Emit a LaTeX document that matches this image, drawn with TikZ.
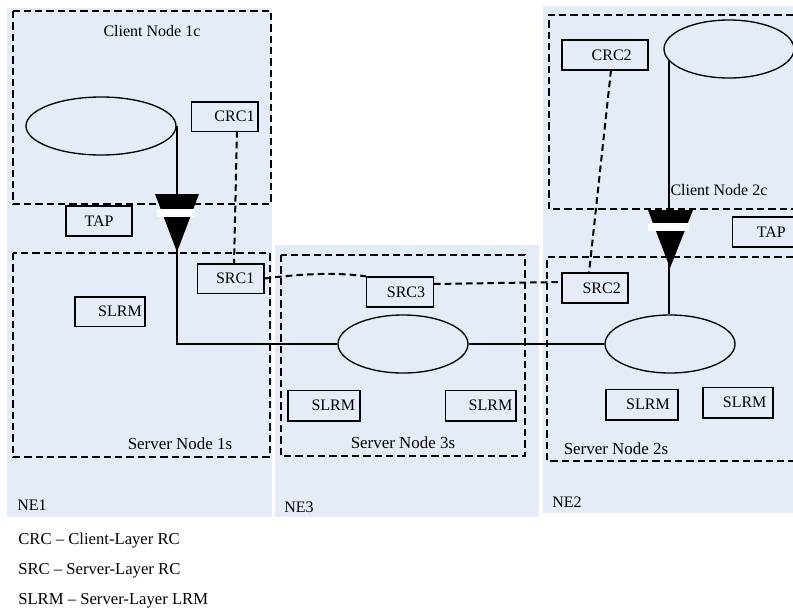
\documentclass[tikz,border=0pt]{standalone}
\usepackage{fontspec}
\setmainfont{Liberation Serif}
\definecolor{nefill}{HTML}{E6ECF7}
\tikzset{
    nepanel/.style={fill=nefill,draw=none},
    nodearea/.style={draw,line width=1.7pt,dash pattern=on 5.5pt off 3pt},
    rcbox/.style={draw,line width=1pt,inner sep=0,anchor=center,font=\fontsize{12}{14}\selectfont},
    ring/.style={draw,ellipse,line width=1pt,inner sep=0,anchor=center},
    label/.style={inner sep=0,anchor=center,font=\fontsize{12}{14}\selectfont},
    serverlabel/.style={label,font=\fontsize{12.7}{14}\selectfont},
    legend/.style={inner sep=0,anchor=west,font=\fontsize{12.5}{14}\selectfont},
    rcline/.style={line width=1.5pt,dash pattern=on 5pt off 3pt},
    dataline/.style={line width=1.4pt},
}
\newcommand{\boxtext}[2]{\hspace*{#1pt}#2}
\usetikzlibrary{shapes.geometric}
\begin{document}
\begin{tikzpicture}[x=0.75pt,y=-0.75pt]
    \useasboundingbox (0,0) rectangle (793,611);
    % network elements
    \fill[nepanel] (7,8) rectangle (272,517);
    \fill[nepanel] (275,245) rectangle (539,517);
    \fill[nepanel] (543,6) rectangle (793,513);
    \node[label] (ne1) at (32,505) {NE1};
    \node[label] (ne3) at (299,507) {NE3};
    \node[label] (ne2) at (567,502) {NE2};
    % client and server nodes
    \draw[nodearea] (13,11) rectangle (271,204);
    \draw[nodearea] (13,253) rectangle (270,457);
    \draw[nodearea] (281,255) rectangle (525,456);
    \draw[nodearea] (793,15) -- (549,15) -- (549,209) -- (793,209);
    \draw[nodearea] (793,257) -- (547,257) -- (547,461) -- (793,461);
    \node[label] (client1) at (152,31) {Client Node 1c};
    \node[label] (client2) at (719,190) {Client Node 2c};
    \node[serverlabel] (server1) at (180,444) {Server Node 1s};
    \node[serverlabel] (server3) at (403,443) {Server Node 3s};
    \node[serverlabel] (server2) at (616,449) {Server Node 2s};
    % rings
    \node[ring,minimum width=112.5pt,minimum height=43.5pt] (ring1) at (101,126) {};
    \node[ring,minimum width=97.5pt,minimum height=43.5pt] (ring2) at (729,49) {};
    \node[ring,minimum width=97.5pt,minimum height=43.5pt] (ring3) at (403,344) {};
    \node[ring,minimum width=97.5pt,minimum height=43.5pt] (ring4) at (670,344) {};
    % boxes
    \node[rcbox,minimum width=50pt,minimum height=22pt] (crc1) at (224.5,116.5) {\boxtext{15}{CRC1}};
    \node[rcbox,minimum width=49.5pt,minimum height=22.5pt] (tap1) at (99,221) {TAP};
    \node[rcbox,minimum width=50pt,minimum height=22pt] (src1) at (230.5,278.5) {\boxtext{7}{SRC1}};
    \node[rcbox,minimum width=52.5pt,minimum height=22pt] (slrm1) at (110,311.5) {\boxtext{15}{SLRM}};
    \node[rcbox,minimum width=50pt,minimum height=22.5pt] (src3) at (400,292) {\boxtext{9}{SRC3}};
    \node[rcbox,minimum width=54pt,minimum height=23pt] (slrm2) at (324,405.5) {\boxtext{14}{SLRM}};
    \node[rcbox,minimum width=53pt,minimum height=23pt] (slrm3) at (480.5,405.5) {\boxtext{15}{SLRM}};
    \node[rcbox,minimum width=64.5pt,minimum height=22.5pt] (crc2) at (605,55) {\boxtext{10}{CRC2}};
    \node[rcbox,minimum width=50pt,minimum height=22.5pt] (tap2) at (766,232) {\boxtext{8}{TAP}};
    \node[rcbox,minimum width=49.5pt,minimum height=22.5pt] (src2) at (595,288) {\boxtext{10}{SRC2}};
    \node[rcbox,minimum width=54pt,minimum height=23pt] (slrm4) at (642,404.5) {\boxtext{9}{SLRM}};
    \node[rcbox,minimum width=52.5pt,minimum height=23pt] (slrm5) at (738,402.5) {\boxtext{10}{SLRM}};
    % data path
    \draw[dataline] (ring1.east) |- (ring3.west);
    \draw[dataline] (ring3.east) -- (ring4.west);
    \draw[dataline] (ring2.191) -- (ring2.191 |- ring4.north);
    % control path
    \coordinate (crc1foot) at (237,131);
    \coordinate (src1top) at (234,264);
    \coordinate (src3east) at (434,284);
    \coordinate (src2west) at (562,282);
    \coordinate (crc2foot) at (611,70);
    \coordinate (src2top) at (589,273);
    \draw[rcline] (crc1foot) -- (src1top);
    \draw[rcline] (src1.east) .. controls (300,274) and (335,272) .. (src3.north west);
    \draw[rcline] (src3east) -- (src2west);
    \draw[rcline] (crc2foot) -- (src2top);
    % adaptation
    \fill (155,194) -- (199,194) -- (177,252) -- cycle;
    \fill[white] (157,209) rectangle (194,217);
    \fill (648,210) -- (693,210) -- (670,268) -- cycle;
    \fill[white] (648,223) rectangle (689,231);
    % legend
    \node[legend] (legend1) at (18,540.5) {CRC -- Client-Layer RC};
    \node[legend] (legend2) at (18,570.5) {SRC -- Server-Layer RC};
    \node[legend] (legend3) at (18,601) {SLRM -- Server-Layer LRM};
\end{tikzpicture}
\end{document}
